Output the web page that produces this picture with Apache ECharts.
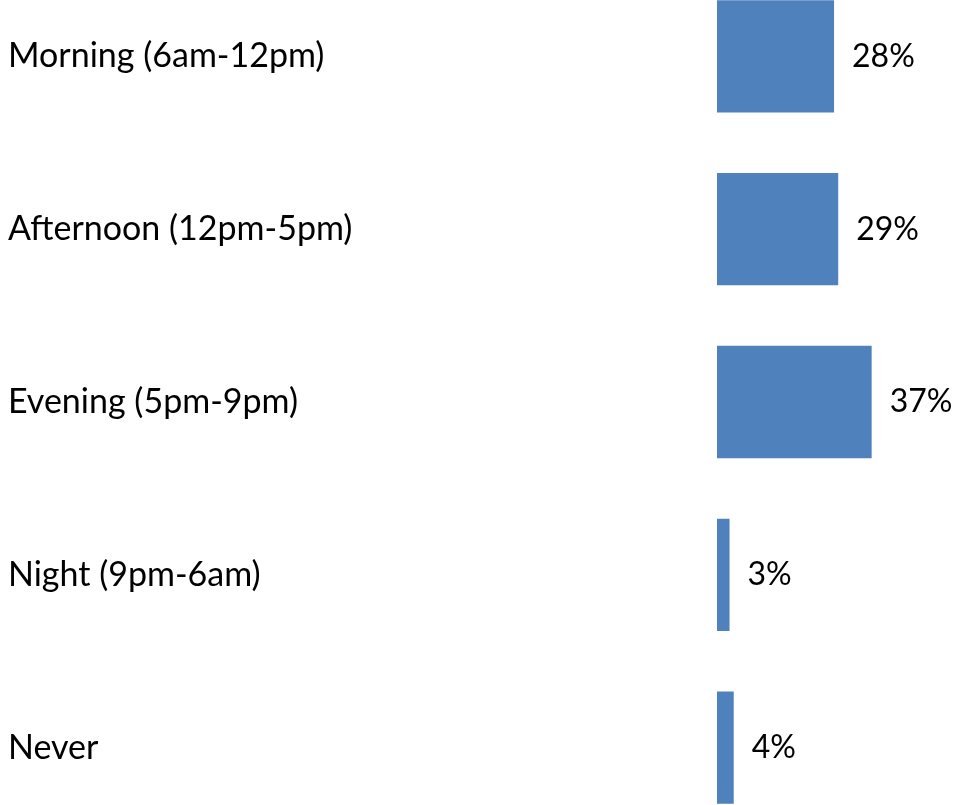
<!DOCTYPE html>
<html>
<head>
<meta charset="utf-8">
<script src="https://cdn.jsdelivr.net/npm/echarts@6/dist/echarts.min.js"></script>
<style>
  html, body { margin: 0; padding: 0; background: #fff; overflow: hidden; }
  #chart { width: 956px; height: 864px; margin-top: -30px; }
</style>
</head>
<body>
<div id="chart"></div>
<script>
// time-of-day categories, top to bottom
const categories = ['Morning (6am-12pm)', 'Afternoon (12pm-5pm)', 'Evening (5pm-9pm)', 'Night (9pm-6am)', 'Never'];
const values = [28, 29, 37, 3, 4];

const myChart = echarts.init(document.getElementById('chart'));
const option = {
    animation: false,
    grid: { left: 717, right: 30, top: 0, bottom: 0 },
    xAxis: {
        type: 'value',
        min: 0,
        max: 50,
        show: false
    },
    yAxis: {
        type: 'category',
        data: categories,
        inverse: true,
        axisLine: { show: false },
        axisTick: { show: false },
        axisLabel: {
            align: 'left',
            margin: 709,
            fontFamily: 'Lato',
            fontSize: 34,
            color: '#000'
        }
    },
    series: [{
        type: 'bar',
        data: values,
        barCategoryGap: '35%',
        itemStyle: { color: '#4F81BD' },
        label: {
            show: true,
            position: 'right',
            distance: 18,
            formatter: '{c}%',
            fontFamily: 'Lato',
            fontSize: 32,
            color: '#000'
        }
    }]
};
myChart.setOption(option);
</script>
</body>
</html>
